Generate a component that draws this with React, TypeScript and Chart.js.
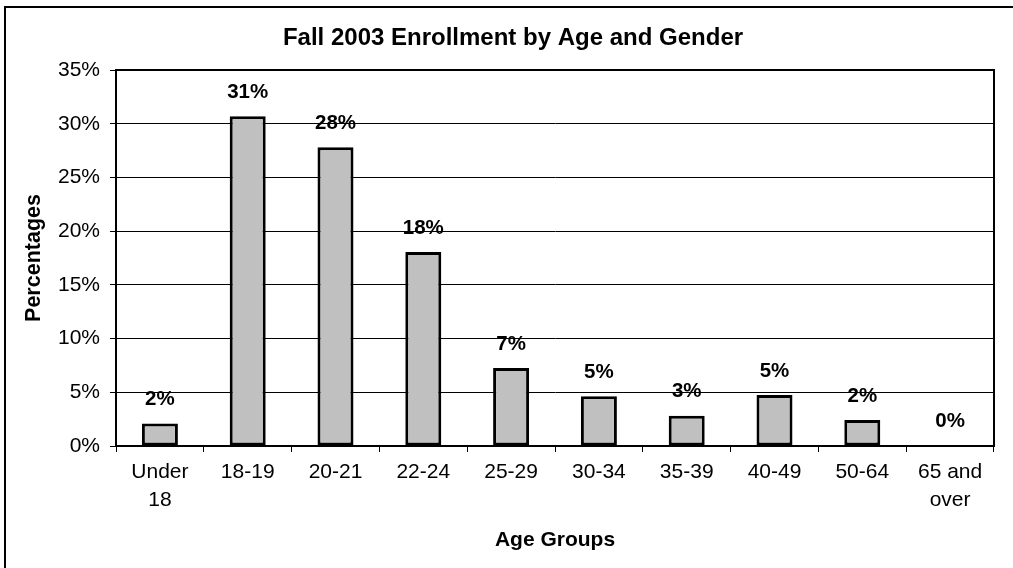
import React, { useEffect, useRef } from "react";
import { Chart, registerables } from "chart.js";

Chart.register(...registerables);

const categories: (string | string[])[] = [
  ["Under", "18"], "18-19", "20-21", "22-24", "25-29", "30-34", "35-39", "40-49", "50-64", ["65 and", "over"],
];
const percentages: number[] = [2.1, 30.7, 27.8, 18.05, 7.25, 4.63, 2.82, 4.75, 2.42, 0.1];
const yTicks: number[] = [0, 5, 10, 15, 20, 25, 30, 35];
const chartTitle = "Fall 2003 Enrollment by Age and Gender";
const xTitle = "Age Groups";
const yTitle = "Percentages";

const FONT = "'Liberation Sans', Arial, sans-serif";

export default function App() {
  const ref = useRef<HTMLCanvasElement | null>(null);

  useEffect(() => {
    document.body.style.margin = "0";
    const canvas = ref.current;
    if (!canvas) return;

    const framePlugin = {
      id: "frame",
      afterDraw(chart: any) {
        const ctx = chart.ctx;
        const a = chart.chartArea;
        ctx.save();
        ctx.strokeStyle = "#000";
        ctx.lineWidth = 2;
        ctx.strokeRect(a.left, a.top, a.right - a.left, a.bottom - a.top);
        ctx.beginPath();
        ctx.moveTo(5, 568);
        ctx.lineTo(5, 7);
        ctx.lineTo(1013, 7);
        ctx.stroke();
        ctx.fillStyle = "#000";
        ctx.font = `bold 24px ${FONT}`;
        ctx.textAlign = "center";
        ctx.textBaseline = "middle";
        ctx.fillText(chartTitle, 513, 38);
        ctx.font = `bold 20.5px ${FONT}`;
        const meta = chart.getDatasetMeta(0);
        meta.data.forEach((bar: any, i: number) => {
          ctx.fillText(Math.round(percentages[i]) + "%", bar.x, bar.y - 24);
        });
        ctx.restore();
      },
    };

    const chart = new Chart(canvas, {
      type: "bar",
      data: {
        labels: categories,
        datasets: [
          {
            data: percentages,
            backgroundColor: "#c0c0c0",
            borderColor: "#000",
            borderWidth: 3,
            borderSkipped: false,
            categoryPercentage: 1,
            barPercentage: 0.41,
          },
        ],
      },
      options: {
        responsive: false,
        animation: false,
        layout: { padding: { left: 0, right: 19, top: 70, bottom: 0 } },
        plugins: {
          legend: { display: false },
          title: { display: false },
          tooltip: { enabled: false },
        },
        scales: {
          x: {
            afterFit: (s: any) => {
              s.height = 122;
            },
            grid: {
              display: true,
              drawOnChartArea: false,
              offset: true,
              tickLength: 6,
              color: "#000",
              lineWidth: 1,
            },
            border: { display: true, color: "#000", width: 2 },
            ticks: {
              color: "#000",
              font: { family: FONT, size: 21, lineHeight: 1.35 },
              padding: 6,
              maxRotation: 0,
              autoSkip: false,
            },
            title: {
              display: true,
              text: xTitle,
              color: "#000",
              font: { family: FONT, size: 21, weight: "bold", lineHeight: 1.2 },
              padding: { top: 0, bottom: 15 },
            },
          },
          y: {
            min: 0,
            max: 35,
            afterFit: (s: any) => {
              s.width = 116;
            },
            afterBuildTicks: (s: any) => {
              s.ticks = yTicks.map((v) => ({ value: v }));
            },
            grid: {
              color: "#000",
              lineWidth: 1,
              tickLength: 6,
            },
            border: { display: true, color: "#000", width: 2 },
            ticks: {
              color: "#000",
              font: { family: FONT, size: 21 },
              padding: 10,
              callback: (v: any) => v + "%",
            },
            title: {
              display: true,
              text: yTitle,
              color: "#000",
              font: { family: FONT, size: 21.5, weight: "bold", lineHeight: 1.2 },
              padding: { top: 21, bottom: 0 },
            },
          },
        },
      },
      plugins: [framePlugin],
    });

    return () => chart.destroy();
  }, []);

  return (
    <div style={{ width: 1013, height: 568, background: "#fff" }}>
      <canvas ref={ref} width={1013} height={568} style={{ display: "block" }} />
    </div>
  );
}
